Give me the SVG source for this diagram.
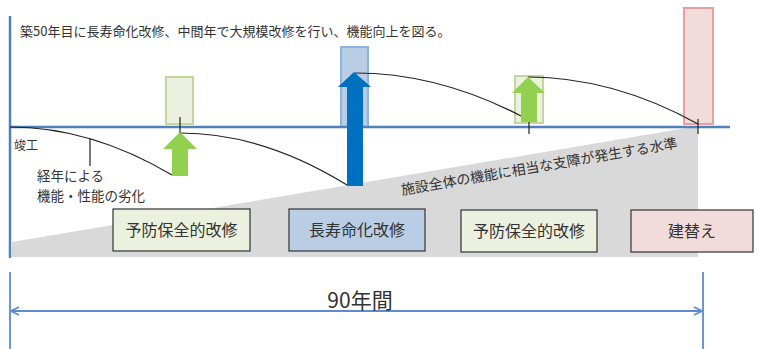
<svg xmlns="http://www.w3.org/2000/svg" width="757" height="349" viewBox="0 0 757 349">
<defs>
<style>
text{font-family:"Noto Sans CJK JP","Noto Sans",sans-serif;fill:#333}
.axis{stroke:#4f81bd;stroke-width:2.5;fill:none}
.dim{stroke:#5b8bd0;stroke-width:1.8;fill:none}
.curve{stroke:#222;stroke-width:1.2;fill:none}
.g{fill:#ebf1de;stroke:#c3d69b;stroke-width:2}
.b{fill:#b9cde5;stroke:#8db3e2;stroke-width:2}
.r{fill:#f2dcdb;stroke:#e6a0a0;stroke-width:2}
.box{stroke:#333;stroke-width:1.2}
.lbl{font-size:16px;text-anchor:middle}
</style>
<marker id="chev" viewBox="0 0 10 10" refX="9" refY="5" markerWidth="10" markerHeight="10" orient="auto-start-reverse" markerUnits="userSpaceOnUse">
<path d="M1,1 L9,5 L1,9" fill="none" stroke="#5b8bd0" stroke-width="1.6"/>
</marker>
</defs>
<rect width="757" height="349" fill="#fff"/>
<polygon points="12,242 698,126 698,257 12,257" fill="#d9d9d9"/>
<text x="402" y="195" font-size="14" transform="rotate(-9.7 402 195)">施設全体の機能に相当な支障が発生する水準</text>
<text x="20" y="36" font-size="13">築50年目に長寿命化改修、中間年で大規模改修を行い、機能向上を図る。</text>
<g id="bars">
<rect class="g" x="166" y="77" width="27" height="47"/>
<rect class="b" x="341" y="47" width="27" height="80"/>
<rect class="g" x="515" y="76" width="28" height="47"/>
<rect class="r" x="684" y="8" width="29" height="116"/>
</g>
<line class="axis" x1="10" y1="16" x2="10" y2="258"/>
<line class="axis" x1="10" y1="127" x2="730" y2="127"/>
<g id="connectors">
<path class="curve" d="M10,127 Q91,127 172,175"/>
<line class="curve" x1="90" y1="138" x2="90" y2="166"/>
<line class="curve" x1="180" y1="117" x2="180" y2="133"/>
<path class="curve" d="M180,133 Q263,133 347,185"/>
<path class="curve" d="M355,73 Q438,73 521,116"/>
<line class="curve" x1="529" y1="121" x2="529" y2="134"/>
<path class="curve" d="M528,77 Q613,77 698,124"/>
<line class="curve" x1="698" y1="119" x2="698" y2="134"/>
</g>
<g id="arrows">
<polygon points="180,132 197,149 188,149 188,176 172,176 172,149 163,149" fill="#92d050"/>
<polygon points="354,72 371,87 363,87 363,186 347,186 347,87 338,87" fill="#0070c0"/>
<polygon points="528,77 545,93 537,93 537,122 521,122 521,93 512,93" fill="#92d050"/>
</g>
<g id="labels">
<text x="14" y="150" font-size="12">竣工</text>
<text x="37" y="181" font-size="13.5">経年による</text>
<text x="37" y="201" font-size="13.5">機能・性能の劣化</text>
</g>
<g id="node1"><rect class="box" x="113" y="209" width="137" height="42" fill="#ebf1de"/><text class="lbl" x="181.5" y="236">予防保全的改修</text></g>
<g id="node2"><rect class="box" x="289" y="209" width="136" height="42" fill="#b9cde5"/><text class="lbl" x="357" y="236">長寿命化改修</text></g>
<g id="node3"><rect class="box" x="461" y="210" width="136" height="42" fill="#ebf1de"/><text class="lbl" x="529" y="237">予防保全的改修</text></g>
<g id="node4"><rect class="box" x="631" y="210" width="122" height="42" fill="#f2dcdb"/><text class="lbl" x="692" y="237">建替え</text></g>
<g id="dimension">
<line class="dim" x1="10" y1="272" x2="10" y2="349"/>
<line class="dim" x1="703" y1="272" x2="703" y2="349"/>
<line class="dim" x1="11" y1="311" x2="702" y2="311" marker-start="url(#chev)" marker-end="url(#chev)"/>
<text x="360" y="308" font-size="21" text-anchor="middle">90年間</text>
</g>
</svg>
